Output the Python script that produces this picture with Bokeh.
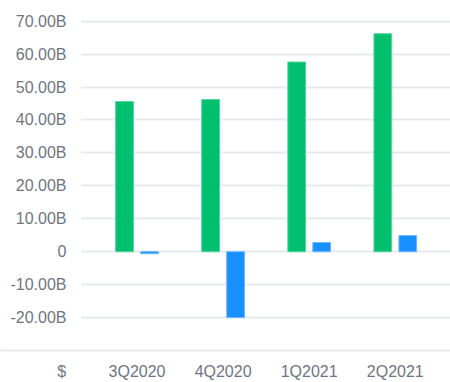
from bokeh.plotting import figure
from bokeh.models import ColumnDataSource, FixedTicker, BoxAnnotation, Range1d
from bokeh.transform import dodge
from bokeh.embed import file_html
from bokeh.resources import INLINE

quarters = ["3Q2020", "4Q2020", "1Q2021", "2Q2021"]
series_a = [45.6, 46.2, 57.6, 66.2]   # billions
series_b = [-0.6, -20.0, 2.8, 4.9]    # billions
tick_values = [-20, -10, 0, 10, 20, 30, 40, 50, 60, 70]
tick_labels = ["-20.00B", "-10.00B", "0", "10.00B", "20.00B", "30.00B",
               "40.00B", "50.00B", "60.00B", "70.00B"]
unit_label = "$"

GREEN = "#00bf6f"
BLUE = "#1890ff"
GRID = "#e6e9ee"
TEXT = "#6e7582"
FONT = "Liberation Sans"

idx = list(range(len(quarters)))
src = ColumnDataSource(dict(i=idx, a=series_a, b=series_b))

# layout constants (pixels of a category slot, and where the first slot sits)
SLOT = 86.1
X0 = -136.5 / SLOT            # frame left edge in category units
X1 = X0 + 450 / SLOT          # frame right edge
UNIT_POS = -0.875             # where the "$" caption sits on the x axis

p = figure(width=450, height=382, output_backend="svg", toolbar_location=None,
           x_range=Range1d(X0, X1), y_range=Range1d(-30, 73.86),
           min_border_left=0, min_border_right=0, min_border_top=8,
           min_border_bottom=32)
p.outline_line_color = None

p.vbar(x=dodge("i", -0.145), top="a", bottom=0, width=0.206,
       source=src, fill_color=GREEN, line_color="#4fd69a", line_width=1)
p.vbar(x=dodge("i", 0.145), top="b", bottom=0, width=0.206,
       source=src, fill_color=BLUE, line_color="#6cb6ff", line_width=1)

# y axis: labels pulled inside the canvas' left strip
p.yaxis.ticker = FixedTicker(ticks=tick_values)
p.yaxis.major_label_overrides = {v: t for v, t in zip(tick_values, tick_labels)}
p.yaxis.axis_line_color = None
p.yaxis.major_tick_line_color = None
p.yaxis.minor_tick_line_color = None
p.yaxis.major_tick_out = 0
p.yaxis.major_label_standoff = -66
p.yaxis.major_label_text_font = FONT
p.yaxis.major_label_text_font_size = "16px"
p.yaxis.major_label_text_color = TEXT

# x axis: category labels plus the unit caption
x_ticks = [UNIT_POS] + idx
x_labels = [unit_label] + quarters
p.xaxis.ticker = FixedTicker(ticks=x_ticks)
p.xaxis.major_label_overrides = {v: t for v, t in zip(x_ticks, x_labels)}
p.xaxis.axis_line_color = GRID
p.xaxis.axis_line_width = 2
p.xaxis.major_tick_line_color = None
p.xaxis.minor_tick_line_color = None
p.xaxis.major_tick_out = 0
p.xaxis.major_label_standoff = 12
p.xaxis.major_label_text_font = FONT
p.xaxis.major_label_text_font_size = "16px"
p.xaxis.major_label_text_color = TEXT

p.xgrid.grid_line_color = None
p.ygrid.ticker = FixedTicker(ticks=tick_values)
p.ygrid.grid_line_color = GRID
p.ygrid.grid_line_width = 2

# keep the value grid lines clear of the label strip
p.add_layout(BoxAnnotation(right=X0 + 80.7 / SLOT, bottom=-29, fill_color="white",
                           fill_alpha=1, line_color=None, level="underlay"))

open("out.html", "w").write(file_html(p, INLINE))
